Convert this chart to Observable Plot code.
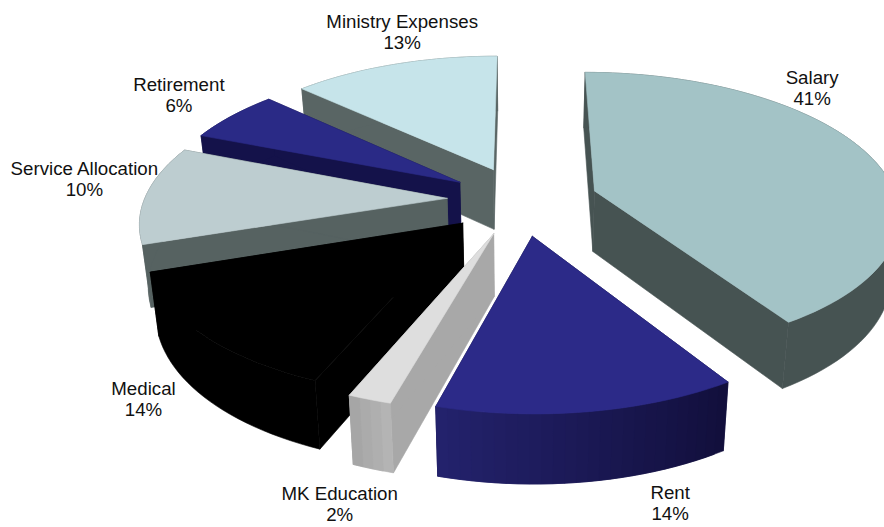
<!DOCTYPE html>
<html>
<head>
<meta charset="utf-8">
<script src="https://cdn.jsdelivr.net/npm/d3@7"></script>
<script src="https://cdn.jsdelivr.net/npm/@observablehq/plot@0.6"></script>
<style>html,body{margin:0;padding:0;background:#fff}svg{display:block}</style>
</head>
<body>
<div id="chart"></div>
<script>
// Data
const categories = ["Salary", "Rent", "MK Education", "Medical", "Service Allocation", "Retirement", "Ministry Expenses"];
const percents = [41, 14, 2, 14, 10, 6, 13];

// Styles, per slice
const topColors = ["#a3c3c6", "#2c2a88", "#dedede", "#000000", "#bdcdd0", "#2a2a86", "#c6e4ea"];
const wallColors = ["#465352", "#13113f", "#a8a8a8", "#000000", "#566261", "#14124a", "#596564"];
const outerFrom = ["#465352", "#23226c", "#a6a6a6", "#000000", "#566261", "#14124a", "#596564"];
const outerTo = ["#465352", "#120f3c", "#b4b4b4", "#000000", "#566261", "#14124a", "#596564"];
const drawOrder = [6, 5, 4, 3, 2, 1, 0];
// Label offsets from the middle of each slice's outer rim
const labelDx = [-56, 81, -30, -59, -62, -53, 8];
const labelDy = [-67, 91, 104, 64, -16, -21, -33];

// Perspective of the 3-D pie
const cam = {cx: 522, cy: 200, R: 303, H: 139, a: 0.15, depth: 61, shrink: 0.977, explode: 0.25};
const warp = d3.scaleLinear().domain([147.6, 200, 256, 291.6]).range([0, 2.7, 4.2, 0]).clamp(true);
const rad = d => d * Math.PI / 180;

function project(u, v, low) {
  const s = 1 / (1 - cam.a * v);
  const k = low ? cam.shrink : 1;
  return {
    x: cam.cx + cam.R * u * s * k,
    y: cam.cy + cam.H * v * s * k + (low ? cam.depth * s : 0)
  };
}

const pie = d3.pie().sort(null).startAngle(0).endAngle(2 * Math.PI)(percents);
const rows = [];
const labels = [];
let faceId = 0;
function face(points, color) {
  const id = faceId++;
  for (const p of [...points, points[0]]) rows.push({id, color, x: p.x, y: p.y});
}

function buildSlice(i) {
  const a0 = pie[i].startAngle * 180 / Math.PI;
  const a1 = pie[i].endAngle * 180 / Math.PI;
  const mid = (a0 + a1) / 2;
  const ou = cam.explode * Math.sin(rad(mid));
  const ov = -cam.explode * Math.cos(rad(mid));
  const rim = (deg, low) => {
    const t = rad(deg - warp(deg));
    return project(ou + Math.sin(t), ov - Math.cos(t), low);
  };
  const apex = low => project(ou, ov, low);
  const steps = Math.max(4, Math.ceil((a1 - a0) / 2));
  const angles = d3.range(steps + 1).map(j => a0 + (a1 - a0) * j / steps);

  // Cut walls
  face([apex(false), rim(a0, false), rim(a0, true), apex(true)], wallColors[i]);
  face([apex(false), rim(a1, false), rim(a1, true), apex(true)], wallColors[i]);
  // Outer wall: one piece when flat, overlapping shaded strips otherwise
  if (outerFrom[i] === outerTo[i]) {
    face([...angles.map(d => rim(d, false)), ...angles.slice().reverse().map(d => rim(d, true))], outerFrom[i]);
  } else {
    const shade = d3.interpolateRgb(outerFrom[i], outerTo[i]);
    for (let j = 0; j < steps; j++) {
      const c = shade(1 - j / (steps - 1));
      const k = Math.min(j + 2, steps);
      face([rim(angles[j], false), rim(angles[k], false), rim(angles[k], true), rim(angles[j], true)], c);
    }
  }
  // Top
  face([apex(false), ...angles.map(d => rim(d, false))], topColors[i]);

  const anchor = rim(mid, false);
  labels.push({
    x: anchor.x, y: anchor.y,
    text: `${categories[i]}\n${percents[i]}%`,
    dx: labelDx[i], dy: labelDy[i]
  });
}
drawOrder.forEach(buildSlice);

const plot = Plot.plot({
  width: 884,
  height: 527,
  margin: 0,
  style: {background: "#fff"},
  x: {domain: [0, 884], range: [0, 884], axis: null},
  y: {domain: [0, 527], range: [0, 527], axis: null},
  color: {type: "identity"},
  marks: [
    Plot.line(rows, {x: "x", y: "y", z: "id", fill: "color", stroke: "color", strokeWidth: 0.6, curve: "linear"}),
    ...labels.map(l => Plot.text([l], {
      x: "x", y: "y", text: "text", dx: l.dx, dy: l.dy,
      fontFamily: "Liberation Sans", fontSize: 18.7, lineHeight: 1.14, fill: "#111", textAnchor: "middle"
    }))
  ]
});
document.getElementById("chart").appendChild(plot);
</script>
</body>
</html>
